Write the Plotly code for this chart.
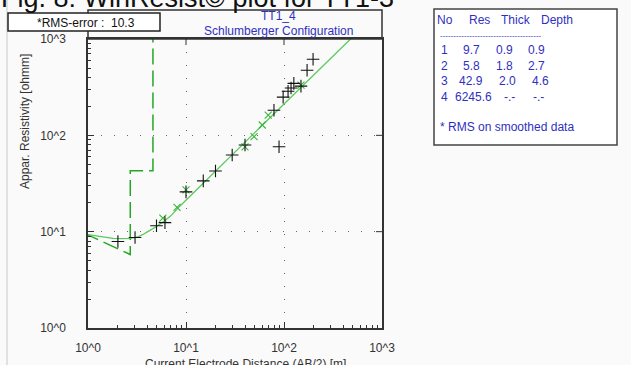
import plotly.graph_objects as go

# ---------------- data ----------------
obs_ab2 = [2.02, 3.02, 5.0, 6.1, 10.0, 15.0, 20.0, 29.6, 40.0, 79.0, 89.0, 98.0, 110.0, 118.0, 126.0, 149.0, 172.0, 198.0]
obs_rho = [7.9, 8.7, 11.5, 12.4, 25.9, 33.7, 42.7, 62.5, 79.5, 182.0, 76.0, 249.0, 287.0, 310.0, 346.0, 324.0, 473.0, 616.0]

smooth_ab2 = [5.8, 8.1, 10.0, 40.0, 49.5, 60.0, 69.0, 149.0]
smooth_rho = [13.8, 17.9, 27.1, 76.0, 97.0, 128.0, 162.0, 332.0]

curve_ab2 = [1.0, 1.3, 1.8, 2.2, 2.7, 3.2, 3.6, 4.2, 5.0, 6.0, 7.0, 8.7, 10.0, 13.0, 17.0, 22.0, 30.0,
             40.0, 50.0, 60.0, 70.0, 80.0, 100.0, 120.0, 150.0, 200.0, 280.0, 360.0, 460.0, 550.0]
curve_rho = [9.3, 8.9, 8.5, 8.45, 8.5, 8.8, 9.3, 10.2, 11.3, 12.9, 14.6, 18.5, 21.3, 27.6, 36.0, 46.5, 63.5,
             84.5, 106.0, 127.0, 148.0, 169.0, 211.0, 253.0, 316.0, 420.0, 585.0, 750.0, 960.0, 1150.0]

layer_no = ["1", "2", "3", "4"]
layer_res = [9.7, 5.8, 42.9, 6245.6]
layer_thick = ["0.9", "1.8", "2.0", "-.-"]
layer_depth = ["0.9", "2.7", "4.6", "-.-"]
layer_res_txt = ["9.7", "5.8", "42.9", "6245.6"]

# step model line built from layer table
model_x = [0.9, 2.7, 2.7, 4.6, 4.6]
model_y = [layer_res[0], layer_res[1], layer_res[2], layer_res[2], layer_res[3]]

tick_vals = [1, 10, 100, 1000]
tick_text = ["10^0", "10^1", "10^2", "10^3"]
minor_vals = [m * d for d in (1, 10, 100) for m in range(2, 10)]

# ---------------- geometry helpers ----------------
W, H = 631, 365
L, R, T, B = 88, 382, 39, 328


def px(x):
    return (x - L) / (R - L)


def py(y):
    return (B - y) / (B - T)


FONT = "Liberation Sans, Arial, sans-serif"
BLUE = "#3030c0"

fig = go.Figure()

fig.add_trace(go.Scatter(x=model_x, y=model_y, mode="lines",
                         line=dict(color="#22a822", width=1.5, dash="16px,6px"),
                         hoverinfo="skip", showlegend=False))
fig.add_trace(go.Scatter(x=curve_ab2, y=curve_rho, mode="lines",
                         line=dict(color="#5cc85c", width=1.3),
                         showlegend=False))
fig.add_trace(go.Scatter(x=smooth_ab2, y=smooth_rho, mode="markers",
                         marker=dict(symbol="x-thin", size=7, line=dict(color="#3cb43c", width=1.1)),
                         showlegend=False))
fig.add_trace(go.Scatter(x=obs_ab2, y=obs_rho, mode="markers",
                         marker=dict(symbol="cross-thin", size=9, line=dict(color="#111111", width=1.1)),
                         showlegend=False))

axis_common = dict(
    type="log", range=[0, 3], tickmode="array", tickvals=tick_vals, ticktext=tick_text,
    showline=True, linecolor="#333333", linewidth=1.5, mirror=True, automargin=False,
    ticks="inside", ticklen=6, tickcolor="#333333", tickwidth=1,
    showgrid=True, gridcolor="#666666", gridwidth=1, griddash="1px,12px",
    zeroline=False, tickfont=dict(family=FONT, size=12, color="#333333"),
    minor=dict(tickmode="array", tickvals=minor_vals, ticks="inside", ticklen=3,
               tickcolor="#333333", showgrid=False),
)
fig.update_xaxes(**axis_common, ticklabelstandoff=8)
fig.update_yaxes(**axis_common, ticklabelstandoff=18)

shapes = []
# left page edge
shapes.append(dict(type="line", xref="paper", yref="paper", x0=px(7), x1=px(7), y0=py(0), y1=py(H),
                   line=dict(color="#c8c8c8", width=1)))
# title box
shapes.append(dict(type="rect", xref="paper", yref="paper", x0=px(88), x1=px(382), y0=py(10), y1=py(39),
                   line=dict(color="#333333", width=1.5)))
# RMS box
shapes.append(dict(type="rect", xref="paper", yref="paper", x0=px(8), x1=px(160), y0=py(13), y1=py(31),
                   line=dict(color="#222222", width=1.5), fillcolor="#ffffff"))
# layer table box
shapes.append(dict(type="rect", xref="paper", yref="paper", x0=px(434), x1=px(617), y0=py(9), y1=py(145),
                   line=dict(color="#444444", width=1.5), fillcolor="#ffffff"))
# mirrored major ticks on top / right
for v in (10, 100):
    shapes.append(dict(type="line", xref="x", yref="paper", x0=v, x1=v, y0=1, y1=1 - 6 / (B - T),
                       line=dict(color="#333333", width=1)))
    shapes.append(dict(type="line", xref="paper", yref="y", x0=1, x1=1 - 6 / (R - L), y0=v, y1=v,
                       line=dict(color="#333333", width=1)))

ann = []


def text(x, y, s, size=12, color="#222222", family=FONT, xanchor="center", angle=0):
    ann.append(dict(xref="paper", yref="paper", x=px(x), y=py(y), text=s, showarrow=False,
                    xanchor=xanchor, yanchor="middle", textangle=angle,
                    font=dict(family=family, size=size, color=color)))


text(-1, -2, "Fig. 8: WinResist\u00a9 plot for TT1-3", size=27, color="#111111", xanchor="left")
text(86, 23, "*RMS-error :  10.3", size=12, color="#111111")
text(278, 16, "TT1_4", size=12, color=BLUE)
text(278, 31, "Schlumberger Configuration", size=12, color=BLUE)
text(25, 122, "Appar. Resistivity [ohmm]", size=12, color="#333333", angle=-90)
text(245, 364, "Current Electrode Distance (AB/2) [m]", size=12, color="#333333")

# layer table
text(445, 20, "No", color=BLUE)
text(479, 20, "Res", color=BLUE)
text(516, 20, "Thick", color=BLUE)
text(557, 20, "Depth", color=BLUE)
text(438, 35, "-" * 38, size=8, color=BLUE, xanchor="left")
row_y = [50, 66, 81, 97]
res_cx = [471, 471, 471, 473]
thick_cx = [504, 504, 507, 509]
depth_cx = [536, 536, 540, 538]
for i in range(4):
    text(444, row_y[i], layer_no[i], color=BLUE)
    text(res_cx[i], row_y[i], layer_res_txt[i], color=BLUE)
    text(thick_cx[i], row_y[i], layer_thick[i], color=BLUE)
    text(depth_cx[i], row_y[i], layer_depth[i], color=BLUE)
text(438, 127, "* RMS on smoothed data", color=BLUE, xanchor="left")

fig.update_layout(
    width=W, height=H,
    margin=dict(l=L, r=W - R, t=T, b=H - B, autoexpand=False),
    paper_bgcolor="#fafafa", plot_bgcolor="#fafafa",
    showlegend=False, shapes=shapes, annotations=ann,
)

fig.write_html("out.html", config={"displayModeBar": False},
               post_script="document.body.style.margin='0px';document.body.style.overflow='hidden';")
